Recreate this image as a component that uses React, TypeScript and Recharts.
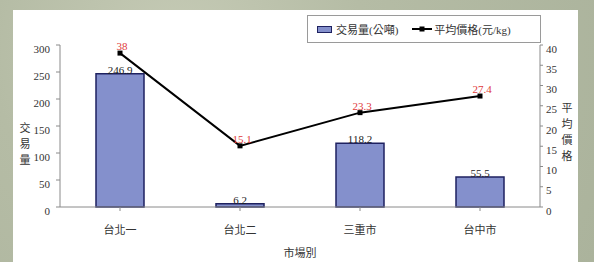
import { ComposedChart, Bar, Line, XAxis, YAxis, LabelList, Label, Legend } from 'recharts'

const markets = ['台北一', '台北二', '三重市', '台中市']
const volume = [246.9, 6.2, 118.2, 55.5]
const price = [38, 15.1, 23.3, 27.4]
const volumeTicks = [0, 50, 100, 150, 200, 250, 300]
const priceTicks = [0, 5, 10, 15, 20, 25, 30, 35, 40]

const data = markets.map((name, i) => ({ name, volume: volume[i], price: price[i] }))

const FONT = "'Liberation Serif', 'Times New Roman', 'DejaVu Serif', 'Noto Sans CJK TC', serif"

const YTick = ({ x, y, payload, anchor }: any) => (
  <text x={x} y={y + 5} textAnchor={anchor} dominantBaseline="middle" fontSize={11} fill="#333" style={{ fontFamily: FONT }}>
    {payload.value}
  </text>
)

const SquareDot = ({ cx, cy }: any) => <rect x={cx - 2.5} y={cy - 2.5} width={5} height={5} fill="#000" />

const VerticalLabel = (text: string, x: number, y: number) => () => (
  <text x={x} textAnchor="middle" fontSize={11} fill="#333" style={{ fontFamily: FONT }}>
    {text.split('').map((ch, i) => (
      <tspan key={i} x={x} y={y + i * 16}>
        {ch}
      </tspan>
    ))}
  </text>
)

const LegendBox = () => (
  <div
    style={{
      width: 232,
      height: 26,
      border: '1px solid #9a9a9a',
      background: '#fff',
      display: 'flex',
      alignItems: 'center',
      fontFamily: FONT,
      fontSize: 11,
      color: '#333',
    }}
  >
    <span style={{ display: 'inline-block', width: 13, height: 5, background: '#8490cc', border: '1px solid #1e2160', marginLeft: 9, marginRight: 4 }} />
    <span>交易量(公噸)</span>
    <svg width={20} height={8} style={{ marginLeft: 14, marginRight: 2 }}>
      <line x1={0} y1={4} x2={20} y2={4} stroke="#000" strokeWidth={2} />
      <rect x={7.5} y={1.5} width={5} height={5} fill="#000" />
    </svg>
    <span>平均價格(元/kg)</span>
  </div>
)

const textStyle = { fontFamily: FONT }

export default function App() {
  return (
    <div
      style={{
        position: 'fixed',
        left: 0,
        top: 0,
        width: 594,
        height: 262,
        background: 'radial-gradient(circle at 30% 20%, #c6cbb6 0%, #b5bca5 40%, #abb39c 100%)',
        overflow: 'hidden',
      }}
    >
      <div style={{ position: 'absolute', left: 13, top: 10, width: 565, height: 252, background: '#fff' }}>
        <ComposedChart width={565} height={252} data={data} margin={{ top: 35, right: 0, bottom: 0, left: 0 }}>
          <XAxis
            dataKey="name"
            height={55}
            stroke="#8a8a8a"
            tickSize={4}
            tickMargin={15}
            tick={{ fontSize: 11, fill: '#333', style: textStyle }}
          >
            <Label value="市場別" position="insideBottom" offset={5} fontSize={11} fill="#333" style={textStyle} />
          </XAxis>
          <YAxis
            yAxisId="left"
            width={47}
            domain={[0, 300]}
            ticks={volumeTicks}
            interval={0}
            stroke="#8a8a8a"
            tickSize={4}
            tickMargin={6}
            tick={<YTick anchor="end" />}
          >
            <Label content={VerticalLabel('交易量', 12, 122)} />
          </YAxis>
          <YAxis
            yAxisId="right"
            orientation="right"
            width={38}
            domain={[0, 40]}
            ticks={priceTicks}
            interval={0}
            stroke="#8a8a8a"
            tickSize={3}
            tickMargin={3}
            tick={<YTick anchor="start" />}
          >
            <Label content={VerticalLabel('平均價格', 554, 102)} />
          </YAxis>
          <Legend
            layout="horizontal"
            verticalAlign="middle"
            wrapperStyle={{ top: 5, left: 294, width: 234 }}
            content={<LegendBox />}
          />
          <Bar
            yAxisId="left"
            dataKey="volume"
            barSize={48}
            fill="#8490cc"
            stroke="#1e2160"
            strokeWidth={1.5}
            isAnimationActive={false}
          >
            <LabelList dataKey="volume" position="top" offset={0} fontSize={11} fill="#222" style={textStyle} />
          </Bar>
          <Line
            yAxisId="right"
            dataKey="price"
            stroke="#000"
            strokeWidth={2}
            dot={<SquareDot />}
            activeDot={false}
            isAnimationActive={false}
          >
            <LabelList dataKey="price" position="top" offset={3} dx={2} fontSize={11} fill="#e03a3a" style={textStyle} />
          </Line>
        </ComposedChart>
      </div>
    </div>
  )
}
